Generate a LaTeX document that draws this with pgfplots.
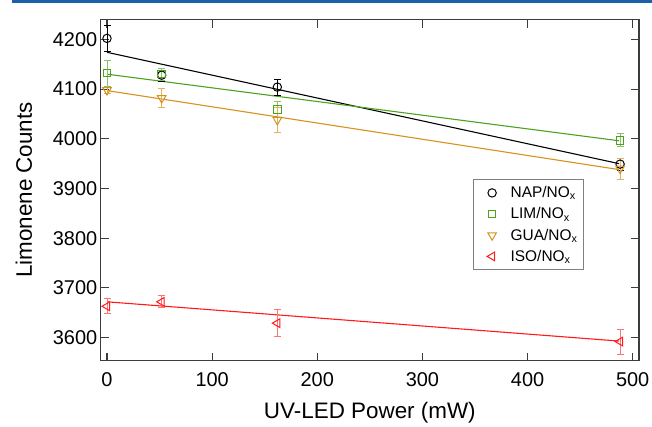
\documentclass[border=0pt]{standalone}
\usepackage{fontspec}
\setmainfont{Liberation Sans}
\usepackage{pgfplots}
\pgfplotsset{compat=1.18}
\definecolor{cgreen}{RGB}{76,162,28}
\definecolor{corange}{RGB}{214,145,30}
\definecolor{cred}{RGB}{255,25,25}
\definecolor{cblue}{RGB}{28,96,168}
\definecolor{caxis}{RGB}{60,60,60}
\begin{document}
\begin{tikzpicture}[x=1bp,y=1bp]
\path[use as bounding box] (0,0) rectangle (652,426);
\fill[cblue] (12,422.7) rectangle (652,426);
\begin{axis}[
  at={(100.7bp,65.3bp)}, anchor=south west,
  scale only axis, width=538.3bp, height=341.2bp,
  xmin=-6, xmax=506, ymin=3553.5, ymax=4240,
  xtick={0,100,...,500}, ytick={3600,3700,...,4200},
  tick align=inside, major tick length=8bp,
  axis line style={caxis, line width=1.3pt},
  every tick/.style={caxis, line width=1.1pt},
  tick label style={font=\fontsize{20}{22}\selectfont},
  xticklabel style={yshift=-8bp},
  /pgf/number format/assume math mode=true,
  /pgf/number format/set thousands separator={},
  label style={font=\fontsize{22.5}{25}\selectfont},
  xlabel={UV-LED Power (mW)}, ylabel={Limonene Counts},
  xlabel style={at={(axis description cs:0.5,0)}, anchor=center, yshift=-52bp},
  ylabel style={yshift=14bp},
  legend style={at={(axis description cs:0.692,0.532)}, anchor=north west,
    draw=gray, line width=0.8pt, font=\fontsize{15.5}{17}\selectfont,
    row sep=4.5bp, inner xsep=4bp, inner ysep=5bp},
  legend cell align=left,
  legend image code/.code={\path (0bp,0bp) (30bp,0bp); \draw[#1, only marks] plot coordinates {(14bp,0bp)};},
  error bars/error bar style={line width=0.9pt},
  error bars/error mark options={rotate=90, mark size=3.5bp, line width=0.9pt},
]
% fit lines
\addplot[black, line width=1.1pt, forget plot] coordinates {(0,4174) (487,3950)};
\addplot[cgreen, line width=1.1pt, forget plot] coordinates {(0,4130) (487,3996)};
\addplot[corange, line width=1.1pt, forget plot] coordinates {(0,4097) (487,3938)};
\addplot[cred, line width=1.1pt, forget plot] coordinates {(0,3672) (487,3593)};
% data
\addplot[only marks, black, mark=o, mark size=4.2bp, line width=1pt,
  error bars/.cd, y dir=both, y explicit,
  error bar style={black}]
  coordinates {(0,4202) +- (0,26) (52,4128) +- (0,13) (162,4104) +- (0,16) (488,3949) +- (0,12)};
\addlegendentry{NAP/NO$_\mathrm{x}$}
\addplot[only marks, cgreen, mark=square, mark size=3.8bp, line width=1pt,
  error bars/.cd, y dir=both, y explicit,
  error bar style={cgreen!65}]
  coordinates {(0,4132) +- (0,26) (52,4130) +- (0,12) (162,4059) +- (0,16) (488,3997) +- (0,13)};
\addlegendentry{LIM/NO$_\mathrm{x}$}
\addplot[only marks, corange, mark=triangle, mark size=5bp, mark options={rotate=180}, line width=1pt,
  error bars/.cd, y dir=both, y explicit,
  error bar style={corange!70}]
  coordinates {(0,4098) +- (0,6) (52,4082) +- (0,19) (162,4038) +- (0,25) (488,3940) +- (0,21)};
\addlegendentry{GUA/NO$_\mathrm{x}$}
\addplot[only marks, cred, mark=triangle, mark size=5bp, mark options={rotate=90}, line width=1pt,
  error bars/.cd, y dir=both, y explicit,
  error bar style={cred!60}]
  coordinates {(0,3663) +- (0,15) (52,3672) +- (0,12) (162,3629) +- (0,27) (488,3592) +- (0,25)};
\addlegendentry{ISO/NO$_\mathrm{x}$}
\end{axis}
\end{tikzpicture}
\end{document}
